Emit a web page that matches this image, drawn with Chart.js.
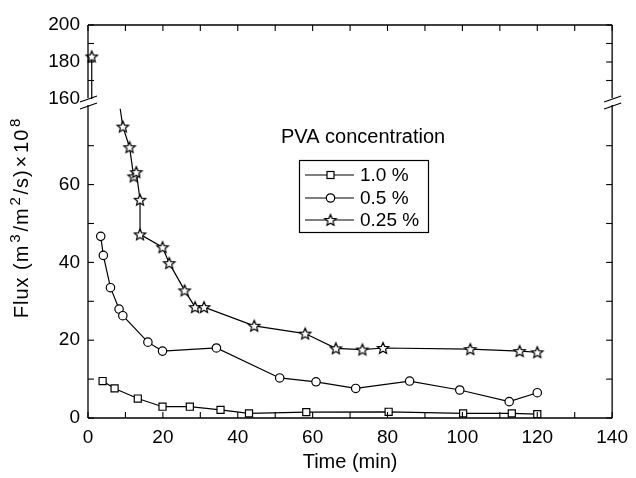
<!DOCTYPE html>
<html>
<head>
<meta charset="utf-8">
<script src="https://cdn.jsdelivr.net/npm/chart.js@4.4.1/dist/chart.umd.min.js"></script>
<style>
html, body { margin: 0; padding: 0; background: #fff; }
#wrap { width: 636px; height: 478px; }
</style>
</head>
<body>
<div id="wrap"><canvas id="chartFlux"></canvas></div>
<script>
// Data: waktu (min) dan flux (m3/m2/s x 1e8)
var konsentrasi = ['1.0 %', '0.5 %', '0.25 %'];

var waktu10 = [3.9, 7.1, 13.3, 19.9, 27.2, 35.4, 43.0, 58.3, 80.3, 100.2, 113.2, 120.0];
var flux10 = [9.5, 7.6, 5.0, 2.9, 2.9, 2.1, 1.2, 1.5, 1.6, 1.2, 1.2, 1.0];

var waktu05 = [3.4, 4.1, 6.0, 8.3, 9.3, 16.0, 19.9, 34.3, 51.2, 60.9, 71.5, 85.9, 99.3, 112.5, 120.0];
var flux05 = [46.7, 41.8, 33.5, 28.0, 26.3, 19.5, 17.2, 18.0, 10.3, 9.3, 7.6, 9.5, 7.2, 4.2, 6.5];

// 0.25 %: titik pertama ada di bagian atas sumbu yang terputus
var waktu025Atas = [1.0, 1.0];
var flux025Atas = [183, 160];
var waktu025 = [8.6, 9.3, 11.1, 12.2, 12.9, 13.9, 13.9, 19.9, 21.7, 25.8, 28.6, 31.0, 44.4, 58.0, 66.2, 73.3, 78.8, 102.1, 115.3, 120.0];
var flux025 = [79.5, 74.9, 69.6, 62.1, 63.2, 56.1, 47.2, 43.9, 39.8, 32.8, 28.5, 28.5, 23.7, 21.7, 17.9, 17.6, 18.0, 17.7, 17.2, 16.9];

// Label sumbu
var labelX = [0, 20, 40, 60, 80, 100, 120, 140];
var labelYBawah = [0, 20, 40, 60];
var labelYAtas = [160, 180, 200];

var FONT = '"Liberation Sans", Arial, Helvetica, sans-serif';

function jadiTitik(xs, ys) {
    return xs.map(function (x, i) { return { x: x, y: ys[i] }; });
}

// Bintang lima sudut (outline) sebagai pointStyle
function buatBintang(r) {
    var c = document.createElement('canvas');
    var s = Math.ceil(r * 2 + 4);
    c.width = s; c.height = s;
    var g = c.getContext('2d');
    var cx = s / 2, cy = s / 2 + 0.5;
    g.beginPath();
    for (var i = 0; i < 10; i++) {
        var rad = (i % 2 === 0) ? r : r * 0.45;
        var a = -Math.PI / 2 + i * Math.PI / 5;
        var px = cx + rad * Math.cos(a), py = cy + rad * Math.sin(a);
        if (i === 0) g.moveTo(px, py); else g.lineTo(px, py);
    }
    g.closePath();
    g.fillStyle = '#fff';
    g.fill();
    g.lineWidth = 1.2;
    g.strokeStyle = '#000';
    g.stroke();
    return c;
}
var bintang = buatBintang(6);

var gayaTitik = {
    borderColor: '#000',
    borderWidth: 1.2,
    pointBorderColor: '#000',
    pointBackgroundColor: '#fff',
    pointBorderWidth: 1.2,
    tension: 0,
    fill: false
};

var data = {
    datasets: [
        Object.assign({}, gayaTitik, {
            label: konsentrasi[0], data: jadiTitik(waktu10, flux10),
            pointStyle: 'rect', pointRadius: 5, yAxisID: 'y'
        }),
        Object.assign({}, gayaTitik, {
            label: konsentrasi[1], data: jadiTitik(waktu05, flux05),
            pointStyle: 'circle', pointRadius: 4.2, yAxisID: 'y'
        }),
        Object.assign({}, gayaTitik, {
            label: konsentrasi[2], data: jadiTitik(waktu025, flux025),
            pointStyle: bintang, pointRadius: waktu025.map(function (t, i) { return i === 0 ? 0 : 6; }),
            yAxisID: 'y'
        }),
        Object.assign({}, gayaTitik, {
            label: konsentrasi[2] + ' atas', data: jadiTitik(waktu025Atas, flux025Atas),
            pointStyle: bintang, pointRadius: [6, 0], yAxisID: 'yAtas',
            clip: false
        })
    ]
};

function tickFont() { return { family: FONT, size: 19 }; }

var sumbuY = {
    type: 'linear',
    position: 'left',
    stack: 'kiri',
    grid: { display: false, drawTicks: false },
    border: { display: false },
    afterFit: function (s) { s.width = 88; }
};

// Plugin: bingkai, tick ke dalam, tanda putus sumbu, judul Y, legenda
var bingkai = {
    id: 'bingkai',
    afterDraw: function (chart) {
        var ctx = chart.ctx;
        var ca = chart.chartArea;
        var sx = chart.scales.x, sb = chart.scales.y, sa = chart.scales.yAtas;
        var yP = sa.bottom;
        var v;
        ctx.save();
        ctx.strokeStyle = '#000';
        ctx.lineWidth = 1.3;
        function garis(x1, y1, x2, y2) {
            ctx.beginPath(); ctx.moveTo(x1, y1); ctx.lineTo(x2, y2); ctx.stroke();
        }
        garis(ca.left, ca.top, ca.right, ca.top);
        garis(ca.left, ca.bottom, ca.right, ca.bottom);
        [ca.left, ca.right].forEach(function (x) {
            garis(x, ca.top, x, yP - 1);
            garis(x, yP + 6, x, ca.bottom);
            garis(x - 8, yP + 3, x + 9, yP - 3);
            garis(x - 8, yP + 10, x + 9, yP + 4);
        });
        ctx.lineWidth = 1.1;
        for (v = 0; v <= 140; v += 10) {
            var px = sx.getPixelForValue(v);
            garis(px, ca.bottom, px, ca.bottom - 6);
            garis(px, ca.top, px, ca.top + 6);
        }
        for (v = 0; v <= 70; v += 10) {
            var py = sb.getPixelForValue(v);
            garis(ca.left, py, ca.left + 6, py);
            garis(ca.right, py, ca.right - 6, py);
        }
        for (v = 170; v <= 200; v += 10) {
            var pa = sa.getPixelForValue(v);
            garis(ca.left, pa, ca.left + 6, pa);
            garis(ca.right, pa, ca.right - 6, pa);
        }

        // Judul sumbu Y dengan pangkat
        ctx.fillStyle = '#000';
        ctx.translate(28, 217);
        ctx.rotate(-Math.PI / 2);
        ctx.letterSpacing = '1px';
        var bagian = [['Flux (m', 0], ['3', 1], ['/m', 0], ['2', 1], ['/s)', 0], ['\u00d7', 0], ['10', 0], ['8', 1]];
        var fBesar = '20px ' + FONT, fKecil = '15px ' + FONT;
        var total = 0;
        bagian.forEach(function (b) {
            ctx.font = b[1] ? fKecil : fBesar;
            total += ctx.measureText(b[0]).width + 1.8;
        });
        var cx = -total / 2;
        ctx.textBaseline = 'alphabetic';
        ctx.textAlign = 'left';
        bagian.forEach(function (b) {
            ctx.font = b[1] ? fKecil : fBesar;
            ctx.fillText(b[0], cx, b[1] ? -8 : 0);
            cx += ctx.measureText(b[0]).width + 1.8;
        });
        ctx.letterSpacing = '0px';
        ctx.setTransform(1, 0, 0, 1, 0, 0);

        // Legenda di dalam area
        ctx.font = '20px ' + FONT;
        ctx.textBaseline = 'middle';
        ctx.fillText('PVA concentration', 281, 137);
        ctx.lineWidth = 1.2;
        ctx.strokeRect(299.5, 160.5, 129, 72);
        var yItem = [175, 198, 220];
        konsentrasi.forEach(function (lbl, i) {
            var y = yItem[i];
            garis(305, y, 354, y);
            ctx.fillStyle = '#fff';
            if (i === 0) {
                ctx.fillRect(327, y - 3.5, 7, 7); ctx.strokeRect(327, y - 3.5, 7, 7);
            } else if (i === 1) {
                ctx.beginPath(); ctx.arc(330.5, y, 4.2, 0, Math.PI * 2); ctx.fill(); ctx.stroke();
            } else {
                ctx.drawImage(bintang, 330.5 - bintang.width / 2, y - bintang.height / 2);
            }
            ctx.fillStyle = '#000';
            ctx.font = '19px ' + FONT;
            ctx.fillText(lbl, 360, y + 1);
        });
        ctx.restore();
    }
};

var ctx = document.getElementById('chartFlux').getContext('2d');
var chartFlux = new Chart(ctx, {
    type: 'line',
    data: data,
    plugins: [bingkai],
    options: {
        responsive: true,
        maintainAspectRatio: false,
        animation: false,
        layout: { padding: { top: 25, right: 19, left: 0, bottom: 0 } },
        plugins: { legend: { display: false }, tooltip: { enabled: false } },
        scales: {
            // sumbu kiri disusun terbalik oleh Chart.js, jadi bagian bawah ditulis dulu
            y: Object.assign({}, sumbuY, {
                stackWeight: 319, min: 0, max: 82,
                ticks: {
                    stepSize: 10, padding: 8, color: '#000', font: tickFont(), autoSkip: false,
                    callback: function (v) { return labelYBawah.indexOf(v) >= 0 ? String(v) : ''; }
                }
            }),
            yAtas: Object.assign({}, sumbuY, {
                stackWeight: 74, min: 160, max: 200,
                ticks: {
                    stepSize: 10, padding: 8, color: '#000', font: tickFont(), autoSkip: false,
                    callback: function (v) { return labelYAtas.indexOf(v) >= 0 ? String(v) : ''; }
                }
            }),
            x: {
                type: 'linear', position: 'bottom', min: 0, max: 140,
                grid: { display: false, drawTicks: false },
                border: { display: false },
                ticks: {
                    stepSize: 10, padding: 8, color: '#000', font: tickFont(), maxRotation: 0,
                    autoSkip: false,
                    callback: function (v) { return labelX.indexOf(v) >= 0 ? String(v) : ''; }
                },
                title: { display: true, text: 'Time (min)', color: '#000', font: { family: FONT, size: 20 }, padding: { top: 4, bottom: 4 } },
                afterFit: function (s) { s.height = 60; }
            }
        }
    }
});
</script>
</body>
</html>
